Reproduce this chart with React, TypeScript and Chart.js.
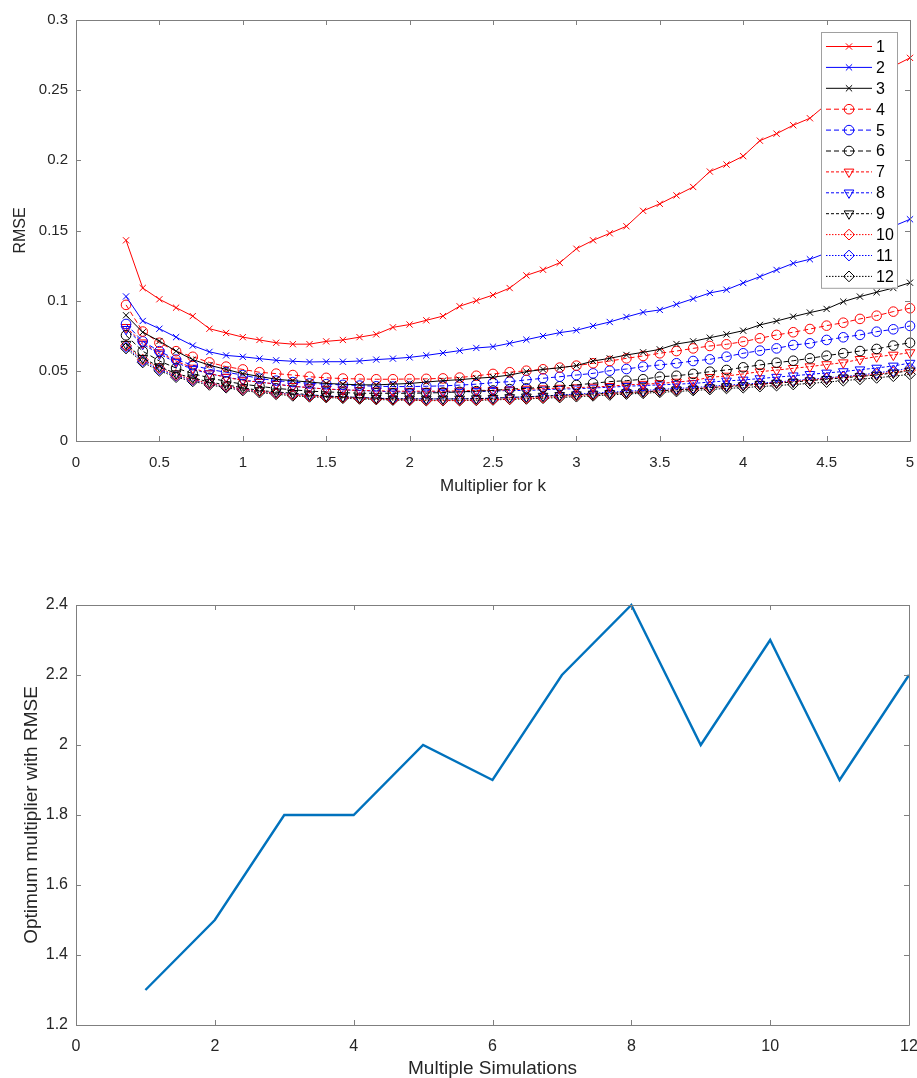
import React, { useEffect, useRef } from 'react';
import { Chart, registerables } from 'chart.js';
import { drawPoint } from 'chart.js/helpers';

Chart.register(...registerables);

// Multiplier for k (x values of the RMSE curves)
const multiplier = [0.3, 0.4, 0.5, 0.6, 0.7, 0.8, 0.9, 1.0, 1.1, 1.2, 1.3, 1.4, 1.5, 1.6, 1.7, 1.8, 1.9, 2.0, 2.1, 2.2, 2.3, 2.4, 2.5, 2.6, 2.7, 2.8, 2.9, 3.0, 3.1, 3.2, 3.3, 3.4, 3.5, 3.6, 3.7, 3.8, 3.9, 4.0, 4.1, 4.2, 4.3, 4.4, 4.5, 4.6, 4.7, 4.8, 4.9, 5.0];

const rmse1 = [0.143, 0.109, 0.101, 0.095, 0.089, 0.080, 0.077, 0.074, 0.072, 0.070, 0.069, 0.069, 0.071, 0.072, 0.074, 0.076, 0.081, 0.083, 0.086, 0.089, 0.096, 0.100, 0.104, 0.109, 0.118, 0.122, 0.127, 0.137, 0.143, 0.148, 0.153, 0.164, 0.169, 0.175, 0.181, 0.192, 0.197, 0.203, 0.214, 0.219, 0.225, 0.230, 0.240, 0.245, 0.251, 0.258, 0.267, 0.273];
const rmse2 = [0.103, 0.0855, 0.080, 0.074, 0.068, 0.0635, 0.061, 0.060, 0.0587, 0.0575, 0.0568, 0.0563, 0.0565, 0.0565, 0.057, 0.058, 0.0587, 0.0596, 0.061, 0.0627, 0.0644, 0.0663, 0.0672, 0.0696, 0.0722, 0.0748, 0.0772, 0.0789, 0.082, 0.0848, 0.0884, 0.0917, 0.0934, 0.0974, 0.1014, 0.1055, 0.1078, 0.1126, 0.1171, 0.1219, 0.1266, 0.1295, 0.134, 0.138, 0.143, 0.148, 0.153, 0.158];
const rmse3 = [0.0896, 0.0775, 0.0712, 0.064, 0.058, 0.054, 0.051, 0.048, 0.046, 0.044, 0.043, 0.042, 0.041, 0.0405, 0.040, 0.040, 0.0405, 0.041, 0.042, 0.043, 0.0437, 0.0447, 0.0455, 0.047, 0.0494, 0.051, 0.0522, 0.0537, 0.057, 0.0589, 0.0613, 0.0632, 0.0653, 0.0691, 0.071, 0.0736, 0.076, 0.0786, 0.0827, 0.0855, 0.0886, 0.0915, 0.0941, 0.0993, 0.1029, 0.106, 0.109, 0.1128];
const rmse4 = [0.097, 0.078, 0.070, 0.064, 0.060, 0.056, 0.053, 0.051, 0.049, 0.048, 0.047, 0.0458, 0.045, 0.0445, 0.0442, 0.044, 0.044, 0.0442, 0.0443, 0.0446, 0.0452, 0.0465, 0.0478, 0.049, 0.0501, 0.0511, 0.0523, 0.0537, 0.0554, 0.057, 0.0589, 0.0606, 0.0625, 0.0641, 0.066, 0.0677, 0.0689, 0.0708, 0.0732, 0.0756, 0.0775, 0.0798, 0.0822, 0.0843, 0.087, 0.0893, 0.0922, 0.0946];
const rmse5 = [0.0834, 0.071, 0.064, 0.058, 0.054, 0.051, 0.049, 0.047, 0.0445, 0.043, 0.042, 0.041, 0.0405, 0.040, 0.0395, 0.039, 0.0388, 0.0388, 0.039, 0.0393, 0.0398, 0.0405, 0.0416, 0.0423, 0.0435, 0.0447, 0.0458, 0.047, 0.0482, 0.0501, 0.0513, 0.053, 0.0542, 0.0554, 0.057, 0.0582, 0.0601, 0.0625, 0.0644, 0.066, 0.0684, 0.0696, 0.072, 0.0739, 0.0756, 0.0779, 0.0796, 0.082];
const rmse6 = [0.0753, 0.064, 0.057, 0.052, 0.048, 0.045, 0.0425, 0.0405, 0.039, 0.0375, 0.0365, 0.0355, 0.035, 0.0345, 0.034, 0.034, 0.034, 0.034, 0.0342, 0.0345, 0.035, 0.0355, 0.036, 0.037, 0.0375, 0.0383, 0.039, 0.0399, 0.0411, 0.0423, 0.043, 0.044, 0.0458, 0.0465, 0.0478, 0.0494, 0.0506, 0.0525, 0.0542, 0.0558, 0.0572, 0.0589, 0.0608, 0.0625, 0.0641, 0.0656, 0.068, 0.070];
const rmse7 = [0.081, 0.070, 0.063, 0.057, 0.052, 0.048, 0.0455, 0.043, 0.042, 0.0405, 0.039, 0.038, 0.037, 0.0365, 0.036, 0.0358, 0.0355, 0.0355, 0.0355, 0.0355, 0.0357, 0.036, 0.0362, 0.0365, 0.037, 0.0373, 0.0377, 0.038, 0.0385, 0.039, 0.040, 0.0405, 0.041, 0.042, 0.043, 0.0454, 0.0463, 0.0478, 0.0494, 0.0505, 0.0518, 0.053, 0.0545, 0.0558, 0.0582, 0.0601, 0.0613, 0.063];
const rmse8 = [0.0796, 0.069, 0.062, 0.056, 0.051, 0.048, 0.0455, 0.0435, 0.042, 0.0405, 0.039, 0.038, 0.037, 0.0365, 0.036, 0.0355, 0.035, 0.035, 0.035, 0.035, 0.035, 0.0352, 0.0355, 0.036, 0.036, 0.0365, 0.037, 0.0372, 0.0378, 0.0383, 0.039, 0.0395, 0.040, 0.0405, 0.041, 0.042, 0.0428, 0.0435, 0.0445, 0.0455, 0.0465, 0.0475, 0.0485, 0.0495, 0.0508, 0.052, 0.0535, 0.0555];
const rmse9 = [0.069, 0.059, 0.053, 0.048, 0.045, 0.042, 0.040, 0.038, 0.036, 0.035, 0.034, 0.033, 0.032, 0.0315, 0.031, 0.0305, 0.030, 0.030, 0.030, 0.030, 0.030, 0.0302, 0.0305, 0.031, 0.0315, 0.032, 0.0325, 0.033, 0.0335, 0.034, 0.0345, 0.035, 0.0357, 0.0365, 0.037, 0.038, 0.0388, 0.0395, 0.0405, 0.0413, 0.042, 0.043, 0.044, 0.045, 0.046, 0.047, 0.0485, 0.050];
const rmse10 = [0.068, 0.058, 0.052, 0.047, 0.044, 0.041, 0.039, 0.037, 0.0355, 0.034, 0.033, 0.032, 0.0315, 0.031, 0.0305, 0.030, 0.0295, 0.0293, 0.029, 0.029, 0.029, 0.0293, 0.0296, 0.030, 0.0305, 0.031, 0.0318, 0.0325, 0.033, 0.0338, 0.0345, 0.035, 0.0358, 0.0365, 0.0372, 0.038, 0.039, 0.0398, 0.0405, 0.0415, 0.0425, 0.0435, 0.0445, 0.0455, 0.0465, 0.0475, 0.049, 0.0505];
const rmse11 = [0.067, 0.057, 0.051, 0.0465, 0.0435, 0.041, 0.0388, 0.037, 0.0355, 0.0342, 0.0333, 0.0325, 0.032, 0.0315, 0.031, 0.0305, 0.0302, 0.030, 0.030, 0.030, 0.030, 0.0302, 0.0305, 0.031, 0.0315, 0.032, 0.0327, 0.0335, 0.034, 0.0348, 0.0355, 0.036, 0.0367, 0.0375, 0.038, 0.039, 0.0398, 0.0405, 0.0413, 0.042, 0.043, 0.044, 0.045, 0.046, 0.047, 0.0485, 0.050, 0.052];
const rmse12 = [0.066, 0.056, 0.050, 0.0455, 0.0425, 0.040, 0.038, 0.036, 0.0345, 0.0333, 0.0322, 0.0315, 0.031, 0.0305, 0.030, 0.0296, 0.0292, 0.029, 0.0288, 0.0288, 0.0288, 0.029, 0.0293, 0.0297, 0.030, 0.0305, 0.031, 0.0316, 0.0322, 0.0328, 0.0335, 0.034, 0.0347, 0.0353, 0.036, 0.0367, 0.0375, 0.038, 0.0388, 0.0395, 0.0403, 0.041, 0.042, 0.043, 0.044, 0.045, 0.0462, 0.0475];

const seriesLabels = ['1', '2', '3', '4', '5', '6', '7', '8', '9', '10', '11', '12'];
const rmseSeries = [rmse1, rmse2, rmse3, rmse4, rmse5, rmse6, rmse7, rmse8, rmse9, rmse10, rmse11, rmse12];

// Optimum multiplier per simulation
const simulations = [1, 2, 3, 4, 5, 6, 7, 8, 9, 10, 11, 12];
const optimumMultiplier = [1.3, 1.5, 1.8, 1.8, 2.0, 1.9, 2.2, 2.4, 2.0, 2.3, 1.9, 2.2];

const COLORS = ['#ff0000', '#0000ff', '#000000'];
const MARKERS = [
  { pointStyle: 'crossRot', radius: 4.4, rotation: 0 },
  { pointStyle: 'circle', radius: 4.8, rotation: 0 },
  { pointStyle: 'triangle', radius: 5.6, rotation: 180 },
  { pointStyle: 'rectRot', radius: 5.4, rotation: 0 },
];
const DASHES = [[], [5, 3], [3, 2], [1.5, 1.5]];

const AXIS_COLOR = '#262626';
const FRAME_COLOR = '#7f7f7f';
const FONT = "'Liberation Sans', Arial, sans-serif";

// Trim trailing zeros: 0.30 -> 0.3, 2.0 -> 2
const tickText = (v: any) => String(Math.round(Number(v) * 1000) / 1000);

// Fixed-size axes: no extra room reserved for overhanging edge labels
const fixHeight = (h: number) => (s: any) => {
  s.height = h;
  s.paddingLeft = 0;
  s.paddingRight = 0;
};
const fixWidth = (w: number) => (s: any) => {
  s.width = w;
  s.paddingTop = 0;
  s.paddingBottom = 0;
};

// Box around the axes with inward tick marks on all four sides
const framePlugin = {
  id: 'axesFrame',
  afterDraw(chart: any) {
    const { ctx, chartArea: a, scales } = chart;
    const len = 5;
    ctx.save();
    ctx.strokeStyle = FRAME_COLOR;
    ctx.lineWidth = 1;
    ctx.beginPath();
    ctx.rect(Math.round(a.left) + 0.5, Math.round(a.top) + 0.5, Math.round(a.right - a.left), Math.round(a.bottom - a.top));
    ctx.stroke();
    ctx.beginPath();
    for (const t of scales.x.ticks) {
      const px = Math.round(scales.x.getPixelForValue(t.value)) + 0.5;
      ctx.moveTo(px, a.bottom);
      ctx.lineTo(px, a.bottom - len);
      ctx.moveTo(px, a.top);
      ctx.lineTo(px, a.top + len);
    }
    for (const t of scales.y.ticks) {
      const py = Math.round(scales.y.getPixelForValue(t.value)) + 0.5;
      ctx.moveTo(a.left, py);
      ctx.lineTo(a.left + len, py);
      ctx.moveTo(a.right, py);
      ctx.lineTo(a.right - len, py);
    }
    ctx.stroke();
    ctx.restore();
  },
};

// Legend box in the upper right corner, each row with line sample and marker
const keyPlugin = {
  id: 'seriesKey',
  afterDatasetsDraw(chart: any) {
    const { ctx, chartArea: a } = chart;
    const ds = chart.data.datasets;
    const rowH = 20.9;
    const boxW = 76;
    const boxH = rowH * ds.length + 5;
    const right = a.right - 13;
    const left = right - boxW;
    const top = a.top + 12;
    ctx.save();
    ctx.fillStyle = '#ffffff';
    ctx.fillRect(left, top, boxW, boxH);
    ctx.strokeStyle = '#a0a0a0';
    ctx.lineWidth = 1;
    ctx.strokeRect(Math.round(left) + 0.5, Math.round(top) + 0.5, boxW, boxH);
    ds.forEach((d: any, i: number) => {
      const y = top + 14.5 + i * rowH;
      ctx.strokeStyle = d.borderColor;
      ctx.lineWidth = 1;
      ctx.setLineDash(d.borderDash || []);
      ctx.beginPath();
      ctx.moveTo(left + 5, y);
      ctx.lineTo(left + 51, y);
      ctx.stroke();
      ctx.setLineDash([]);
      ctx.fillStyle = 'rgba(0,0,0,0)';
      drawPoint(ctx, { pointStyle: d.pointStyle, radius: d.pointRadius, rotation: d.pointRotation, borderWidth: 1 }, left + 28, y);
      ctx.fillStyle = '#000000';
      ctx.font = `16px ${FONT}`;
      ctx.textAlign = 'left';
      ctx.textBaseline = 'middle';
      ctx.fillText(d.label, left + 55, y + 1);
    });
    ctx.restore();
  },
};

function RmseChart() {
  const ref = useRef<HTMLCanvasElement>(null);
  useEffect(() => {
    const datasets = rmseSeries.map((vals, i) => {
      const color = COLORS[i % 3];
      const mk = MARKERS[Math.floor(i / 3)];
      return {
        label: seriesLabels[i],
        data: multiplier.map((x, j) => ({ x, y: vals[j] })),
        borderColor: color,
        borderWidth: 1,
        borderDash: DASHES[Math.floor(i / 3)],
        pointStyle: mk.pointStyle,
        pointRadius: mk.radius,
        pointRotation: mk.rotation,
        pointBorderColor: color,
        pointBackgroundColor: 'rgba(0,0,0,0)',
        pointBorderWidth: 1,
        tension: 0,
        clip: false,
      };
    });
    const chart = new Chart(ref.current!, {
      type: 'line',
      data: { datasets: datasets as any },
      options: {
        animation: false,
        responsive: false,
        layout: { autoPadding: false, padding: { left: 0, right: 7, top: 20, bottom: 0 } },
        plugins: { legend: { display: false }, tooltip: { enabled: false } },
        scales: {
          x: {
            type: 'linear',
            min: 0,
            max: 5,
            ticks: { stepSize: 0.5, color: AXIS_COLOR, font: { family: FONT, size: 15 }, padding: 13, maxRotation: 0, callback: tickText },
            grid: { display: false, drawTicks: false },
            border: { display: false },
            title: { display: true, text: 'Multiplier for k', color: AXIS_COLOR, font: { family: FONT, size: 17 }, padding: { top: 0, bottom: 3 } },
            afterFit: fixHeight(59),
          },
          y: {
            type: 'linear',
            min: 0,
            max: 0.3,
            ticks: { stepSize: 0.05, color: AXIS_COLOR, font: { family: FONT, size: 15 }, padding: 8, callback: tickText },
            grid: { display: false, drawTicks: false },
            border: { display: false },
            title: { display: true, text: 'RMSE', color: AXIS_COLOR, font: { family: FONT, size: 16 }, padding: { top: 11, bottom: 0 } },
            afterFit: fixWidth(76),
          },
        },
      },
      plugins: [keyPlugin, framePlugin],
    });
    return () => chart.destroy();
  }, []);
  return <canvas ref={ref} width={917} height={500} style={{ position: 'absolute', left: 0, top: 0, width: 917, height: 500 }} />;
}

function OptimumChart() {
  const ref = useRef<HTMLCanvasElement>(null);
  useEffect(() => {
    const chart = new Chart(ref.current!, {
      type: 'line',
      data: {
        datasets: [
          {
            label: 'Optimum multiplier',
            data: simulations.map((x, j) => ({ x, y: optimumMultiplier[j] })),
            borderColor: '#0072BD',
            borderWidth: 2.4,
            pointRadius: 0,
            tension: 0,
            clip: false,
          },
        ],
      },
      options: {
        animation: false,
        responsive: false,
        layout: { autoPadding: false, padding: { left: 0, right: 8, top: 65, bottom: 0 } },
        plugins: { legend: { display: false }, tooltip: { enabled: false } },
        scales: {
          x: {
            type: 'linear',
            min: 0,
            max: 12,
            ticks: { stepSize: 2, color: AXIS_COLOR, font: { family: FONT, size: 16 }, padding: 12, maxRotation: 0, callback: tickText },
            grid: { display: false, drawTicks: false },
            border: { display: false },
            title: { display: true, text: 'Multiple Simulations', color: AXIS_COLOR, font: { family: FONT, size: 19 }, padding: { top: 0, bottom: -2 } },
            afterFit: fixHeight(53),
          },
          y: {
            type: 'linear',
            min: 1.2,
            max: 2.4,
            ticks: { stepSize: 0.2, color: AXIS_COLOR, font: { family: FONT, size: 16 }, padding: 8, callback: tickText },
            grid: { display: false, drawTicks: false },
            border: { display: false },
            title: { display: true, text: 'Optimum multiplier with RMSE', color: AXIS_COLOR, font: { family: FONT, size: 19 }, padding: { top: 20, bottom: 0 } },
            afterFit: fixWidth(76),
          },
        },
      },
      plugins: [framePlugin],
    });
    return () => chart.destroy();
  }, []);
  return <canvas ref={ref} width={917} height={538} style={{ position: 'absolute', left: 0, top: 540, width: 917, height: 538 }} />;
}

export default function App() {
  return (
    <div style={{ position: 'absolute', left: 0, top: 0, width: 917, height: 1078, background: '#ffffff', overflow: 'hidden' }}>
      <RmseChart />
      <OptimumChart />
    </div>
  );
}
